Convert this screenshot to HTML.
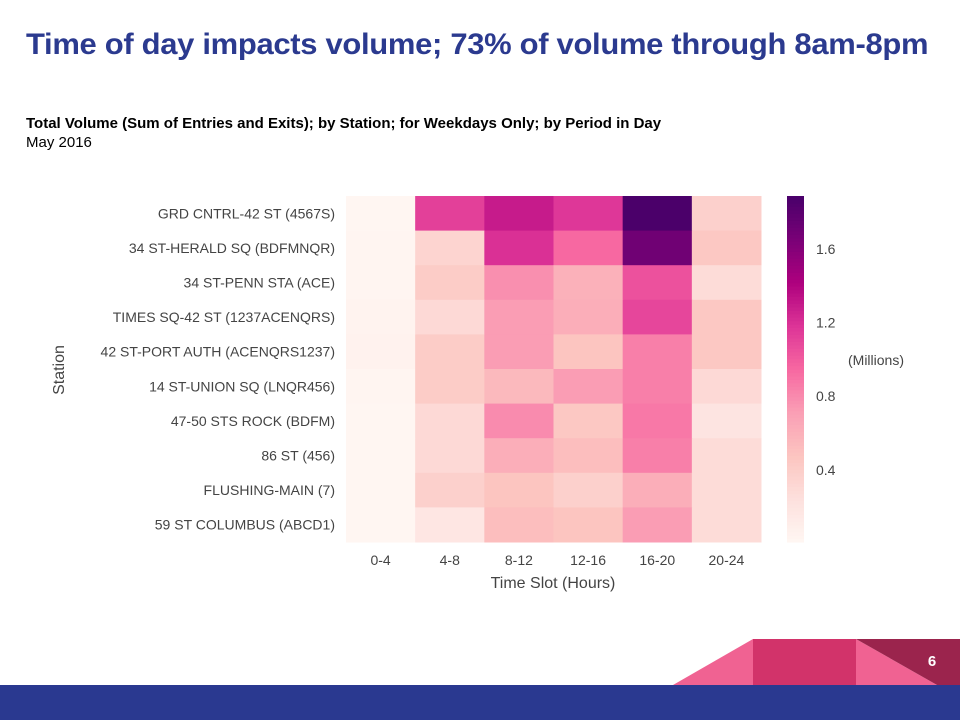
<!DOCTYPE html>
<html><head><meta charset="utf-8"><style>
body{margin:0;width:960px;height:720px;overflow:hidden;background:#fff;font-family:"Liberation Sans",sans-serif;position:relative}
.t{position:absolute}
</style></head><body>
<div class="t" style="left:26px;top:28px;font-size:30px;font-weight:bold;color:#2b3a8f;letter-spacing:-0.3px;white-space:nowrap;transform:scaleX(1.032);transform-origin:left top">Time of day impacts volume; 73% of volume through 8am-8pm</div>
<div class="t" style="left:26px;top:115px;font-size:15px;font-weight:bold;color:#000">Total Volume (Sum of Entries and Exits); by Station; for Weekdays Only; by Period in Day</div>
<div class="t" style="left:26px;top:134px;font-size:15px;color:#000">May 2016</div>
<svg class="t" style="left:0;top:0" width="960" height="720" id="svg">
<polygon points="673,685 753,639 753,685" fill="#f06292"/>
<rect x="753" y="639" width="103" height="46" fill="#d2336a"/>
<polygon points="856,639 937,685 856,685" fill="#f06292"/>
<polygon points="856,639 960,639 960,685 937,685" fill="#9b244d"/>
<text x="932" y="666" font-size="15" font-weight="bold" fill="#fff" text-anchor="middle">6</text>
<rect x="0" y="685" width="960" height="35" fill="#2a3990"/>
</svg>
<script>
const stations=["GRD CNTRL-42 ST (4567S)","34 ST-HERALD SQ (BDFMNQR)","34 ST-PENN STA (ACE)","TIMES SQ-42 ST (1237ACENQRS)","42 ST-PORT AUTH (ACENQRS1237)","14 ST-UNION SQ (LNQR456)","47-50 STS ROCK (BDFM)","86 ST (456)","FLUSHING-MAIN (7)","59 ST COLUMBUS (ABCD1)"];
const slots=["0-4","4-8","8-12","12-16","16-20","20-24"];
const values=[
[0.02,1.13,1.3,1.17,1.88,0.38],
[0.03,0.35,1.2,0.95,1.7,0.45],
[0.03,0.42,0.78,0.6,1.05,0.28],
[0.05,0.3,0.72,0.62,1.1,0.45],
[0.06,0.42,0.72,0.48,0.85,0.45],
[0.03,0.42,0.55,0.72,0.85,0.3],
[0.02,0.3,0.8,0.45,0.88,0.2],
[0.02,0.3,0.62,0.52,0.85,0.28],
[0.02,0.38,0.48,0.38,0.62,0.28],
[0.02,0.18,0.52,0.48,0.72,0.28]];
const cbTicks=[0.4,0.8,1.2,1.6];
const vmin=0.008,vmax=1.888;
const stops=["#fff7f3","#fde0dd","#fcc5c0","#fa9fb5","#f768a1","#dd3497","#ae017e","#7a0177","#49006a"];
function hex(h){return [1,3,5].map(i=>parseInt(h.substr(i,2),16));}
function color(v){let t=Math.max(0,Math.min(1,(v-vmin)/(vmax-vmin)))*(stops.length-1);let i=Math.min(Math.floor(t),stops.length-2),f=t-i;let a=hex(stops[i]),b=hex(stops[i+1]);return "rgb("+a.map((c,k)=>Math.round(c+(b[k]-c)*f)).join(",")+")";}
const X0=346,X1=761,Y0=196,Y1=542;
const cw=(X1-X0)/slots.length,ch=(Y1-Y0)/stations.length;
const xs=i=>X0+i*cw, ys=j=>Y0+j*ch;
const cbX=787,cbW=17;
const cy=v=>Y1-(v-vmin)/(vmax-vmin)*(Y1-Y0);
const svg=document.getElementById('svg');const NS="http://www.w3.org/2000/svg";
function el(t,a,txt){const e=document.createElementNS(NS,t);for(const k in a)e.setAttribute(k,a[k]);if(txt!=null)e.textContent=txt;svg.appendChild(e);return e;}
values.forEach((row,j)=>row.forEach((v,i)=>{
 const r=el('rect',{x:xs(i),y:ys(j),width:cw+0.5,height:ch+0.5,fill:color(v)});
 
 
}));
stations.forEach((s,j)=>{
 const t=el('text',{x:X0-11,y:ys(j)+ch/2+5,'text-anchor':'end','font-size':14,fill:'#444'},s);
 
 
});
slots.forEach((s,i)=>{
 const t=el('text',{x:xs(i)+cw/2,y:Y1+23,'text-anchor':'middle','font-size':14,fill:'#444'},s);
 
 
});
let t=el('text',{x:553,y:588,'text-anchor':'middle','font-size':16,fill:'#444'},'Time Slot (Hours)');


t=el('text',{x:64,y:370,'text-anchor':'middle','font-size':16,fill:'#444',transform:'rotate(-90 64 370)'},'Station');


for(let k=0;k<100;k++){
 const v0=vmin+(vmax-vmin)*k/100,v1=vmin+(vmax-vmin)*(k+1)/100;
 const r=el('rect',{x:cbX,y:cy(v1),width:cbW,height:cy(v0)-cy(v1)+0.6,fill:color((v0+v1)/2)});
 
 
}
cbTicks.forEach(v=>{
 const tt=el('text',{x:816,y:cy(v)+5,'font-size':14,fill:'#444'},v.toFixed(1));
 
 
});
t=el('text',{x:848,y:365,'font-size':14,fill:'#444'},'(Millions)');


</script>
</body></html>
